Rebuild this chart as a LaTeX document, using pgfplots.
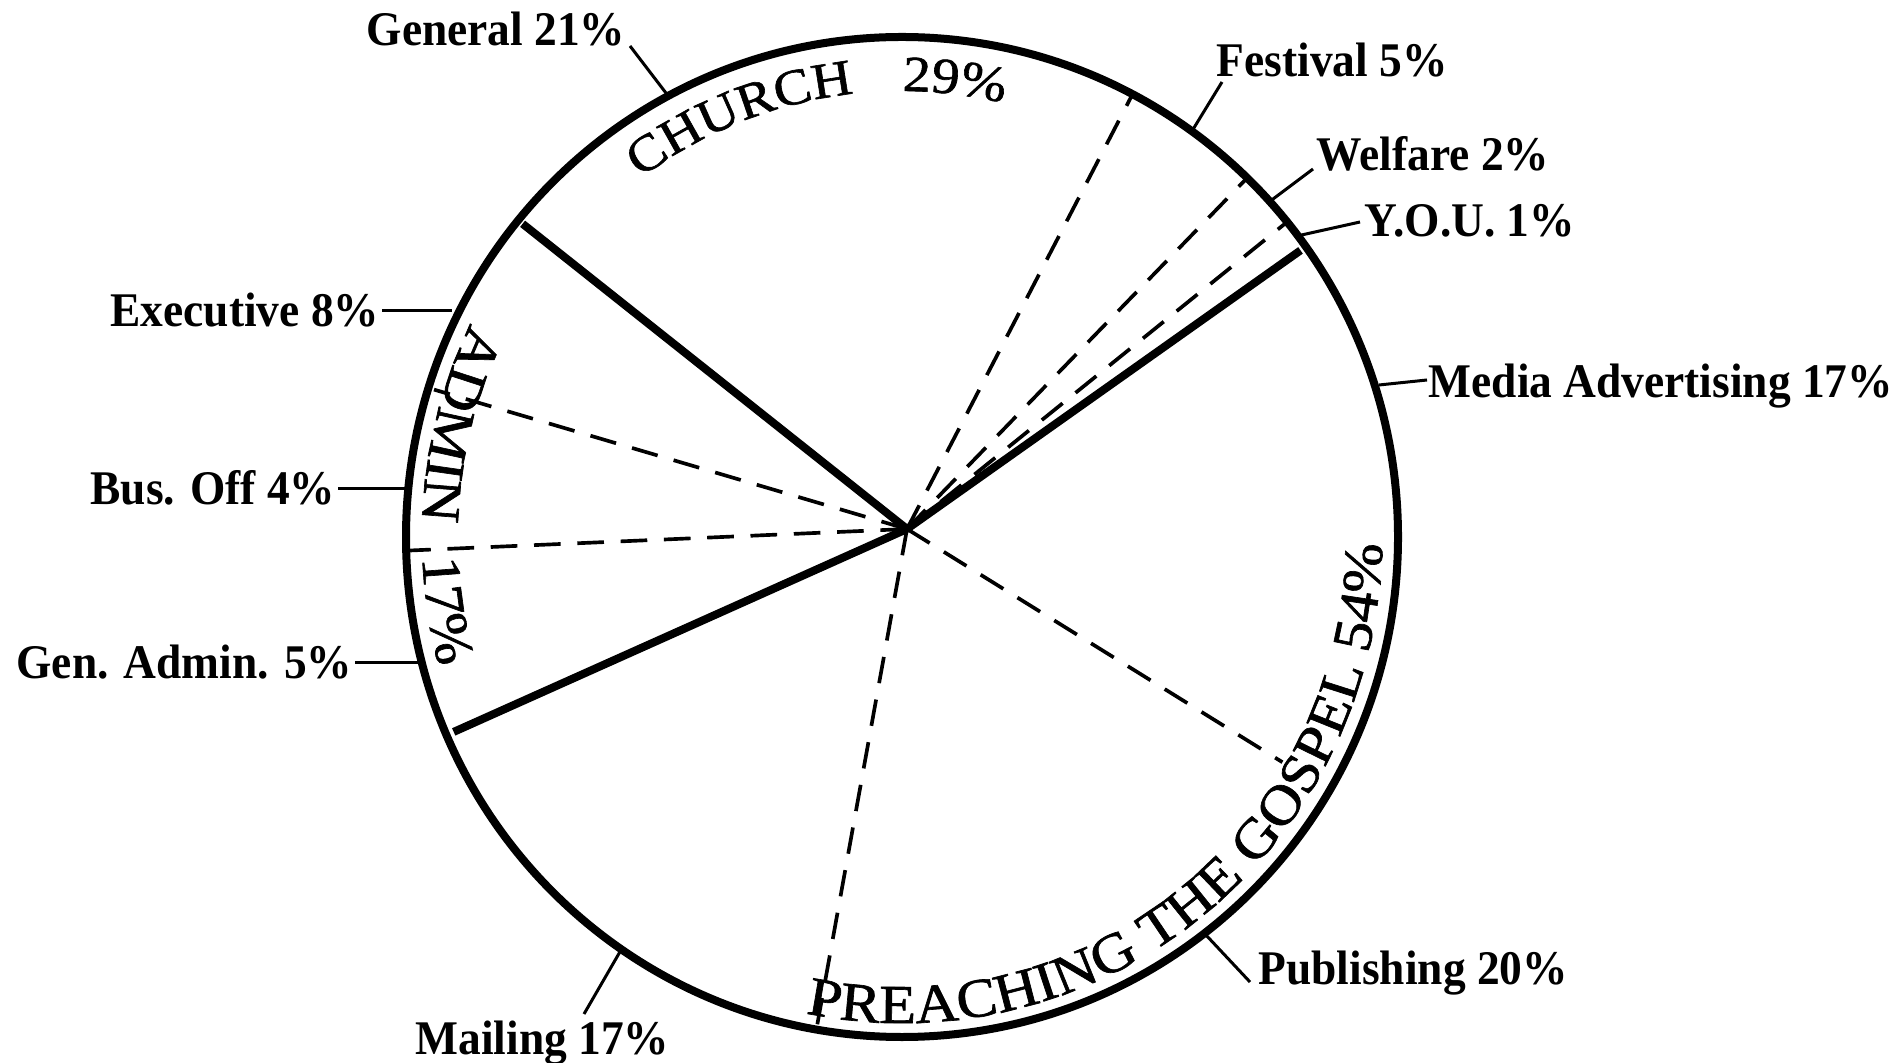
\documentclass[border=0pt]{standalone}
\usepackage{fontspec}
\setmainfont{Liberation Serif}
\newfontfamily\labfont[FakeStretch=0.94]{Liberation Serif}
\newfontfamily\arcfont[FakeStretch=1.1, FakeBold=1.2]{Liberation Serif}
\usepackage{pgfplots}
\pgfplotsset{compat=1.18}
\usetikzlibrary{decorations.text}
\newcommand\lab{\labfont\bfseries\fontsize{14.5}{16}\selectfont}
\newcommand\arct{\arcfont\fontsize{16.5}{18}\selectfont}
\newcommand\arcc{\arcfont\fontsize{15.2}{17}\selectfont}
\begin{document}
\begin{tikzpicture}
\begin{axis}[x=0.3pt,y=0.3pt,xmin=0,xmax=1897,ymin=0,ymax=1062,hide axis,clip=false]
% outline of the pie
\draw[line width=2.4pt] (axis cs:902,525) ellipse [x radius=148.8pt, y radius=150pt];
% main category boundaries (solid)
\addplot[black, mark=none, line width=2.4pt] coordinates {(907,533) (1300.5,811.6)};
\addplot[black, mark=none, line width=2.4pt] coordinates {(907,533) (522.6,838.2)};
\addplot[black, mark=none, line width=2.4pt] coordinates {(907,533) (453.7,330.1)};
% sub-category boundaries (dashed)
\addplot[black, mark=none, line width=1.1pt, dash pattern=on 8pt off 5pt] coordinates {(907,533) (1284.8,838.2)};
\addplot[black, mark=none, line width=1.1pt, dash pattern=on 8pt off 5pt] coordinates {(907,533) (1246.1,883.0)};
\addplot[black, mark=none, line width=1.1pt, dash pattern=on 8pt off 5pt] coordinates {(907,533) (1131.2,965.2)};
\addplot[black, mark=none, line width=1.1pt, dash pattern=on 8pt off 5pt] coordinates {(907,533) (434,672.4)};
\addplot[black, mark=none, line width=1.1pt, dash pattern=on 8pt off 5pt] coordinates {(907,533) (410,511.5)};
\addplot[black, mark=none, line width=1.1pt, dash pattern=on 8pt off 5pt] coordinates {(907,533) (816.6,33.7)};
\addplot[black, mark=none, line width=1.1pt, dash pattern=on 8pt off 5pt] coordinates {(907,533) (1282.4,299.8)};
% leader lines
\addplot[black, mark=none, line width=0.9pt] coordinates {(630,1016) (669,965)};
\addplot[black, mark=none, line width=0.9pt] coordinates {(1222,980) (1192,931)};
\addplot[black, mark=none, line width=0.9pt] coordinates {(1313,893) (1269,860)};
\addplot[black, mark=none, line width=0.9pt] coordinates {(1360,840) (1297,826)};
\addplot[black, mark=none, line width=0.9pt] coordinates {(1379,677) (1427,682)};
\addplot[black, mark=none, line width=0.9pt] coordinates {(382,751) (452,751)};
\addplot[black, mark=none, line width=0.9pt] coordinates {(338,573) (410,573)};
\addplot[black, mark=none, line width=0.9pt] coordinates {(355,399) (424,399)};
\addplot[black, mark=none, line width=0.9pt] coordinates {(1205,128) (1250,80)};
\addplot[black, mark=none, line width=0.9pt] coordinates {(621,112) (584,48)};
% labels
\node[anchor=base west, inner sep=0, font=\lab] at (axis cs:366,1016) {General 21\%};
\node[anchor=base west, inner sep=0, font=\lab] at (axis cs:1216,985) {Festival 5\%};
\node[anchor=base west, inner sep=0, font=\lab] at (axis cs:1316,891) {Welfare 2\%};
\node[anchor=base west, inner sep=0, font=\lab] at (axis cs:1364,825) {Y.O.U. 1\%};
\node[anchor=base west, inner sep=0, font=\lab] at (axis cs:1428,664) {Media Advertising 17\%};
\node[anchor=base east, inner sep=0, font=\lab] at (axis cs:380,735) {Executive 8\%};
\node[anchor=base east, inner sep=0, font=\lab] at (axis cs:336,557) {Bus. Off 4\%};
\node[anchor=base east, inner sep=0, font=\lab] at (axis cs:353,383) {Gen. Admin. 5\%};
\node[anchor=base west, inner sep=0, font=\lab] at (axis cs:1258,78) {Publishing 20\%};
\node[anchor=base west, inner sep=0, font=\lab] at (axis cs:415,8) {Mailing 17\%};
% curved category titles
\path[decorate, decoration={text along path, text align=center, text={|\arcc|CHURCH}}]
  (axis cs:{902+440*cos(141.3)},{525+446*sin(141.3)}) arc[start angle=141.3, end angle=81.3, x radius=132pt, y radius=133.8pt];
\path[decorate, decoration={text along path, text align=center, text={|\arcc|29{\%}}}]
  (axis cs:{902+440*cos(103.3)},{525+446*sin(103.3)}) arc[start angle=103.3, end angle=63.3, x radius=132pt, y radius=133.8pt];
\path[decorate, decoration={text along path, text align=center, text={|\arct|ADMIN}}]
  (axis cs:{902+480*cos(136)},{525+486*sin(136)}) arc[start angle=136, end angle=196, x radius=144pt, y radius=145.8pt];
\path[decorate, decoration={text along path, text align=center, text={|\arct|17{\%}}}]
  (axis cs:{902+480*cos(169)},{525+486*sin(169)}) arc[start angle=169, end angle=209, x radius=144pt, y radius=145.8pt];
\path[decorate, decoration={text along path, text align=center, text={|\arct|PREACHING THE GOSPEL 54{\%}}}]
  (axis cs:{902+480*cos(238.7)},{525+486*sin(238.7)}) arc[start angle=238.7, end angle=378.7, x radius=144pt, y radius=145.8pt];
\end{axis}
\pgfresetboundingbox
\path[use as bounding box] (0,0) rectangle (569.1pt,318.6pt);
\end{tikzpicture}
\end{document}
